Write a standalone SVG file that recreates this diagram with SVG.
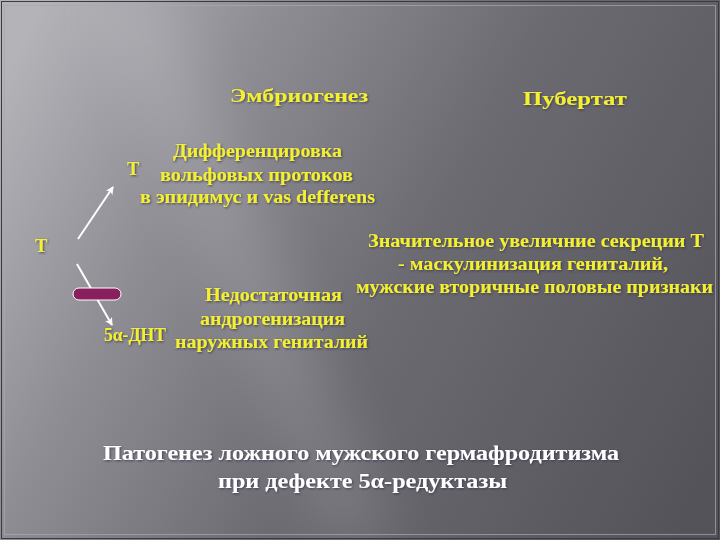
<svg xmlns="http://www.w3.org/2000/svg" width="720" height="540" viewBox="0 0 720 540">
<defs>
<linearGradient id="bg" x1="0" y1="80" x2="720" y2="460" gradientUnits="userSpaceOnUse">
<stop offset="0" stop-color="#b4b3b8"/>
<stop offset="0.25" stop-color="#8f8e95"/>
<stop offset="0.55" stop-color="#6c6b72"/>
<stop offset="1" stop-color="#54535a"/>
</linearGradient>
<filter id="blur" x="-50%" y="-10%" width="200%" height="120%">
<feGaussianBlur stdDeviation="25"/>
</filter>
<filter id="sh" x="-10%" y="-30%" width="120%" height="160%">
<feDropShadow dx="1" dy="1" stdDeviation="0.8" flood-color="#303050" flood-opacity="0.8"/>
</filter>
<marker id="ah" markerWidth="8" markerHeight="8" refX="7" refY="4" orient="auto" markerUnits="userSpaceOnUse">
<path d="M0,0 L8,4 L0,8 L2,4 Z" fill="#ffffff"/>
</marker>
<style>
.y{fill:#f4f02e;font-family:"Liberation Serif","Times New Roman",serif;font-weight:bold;font-size:18.5px;filter:url(#sh)}
.w{fill:#ffffff;font-family:"Liberation Serif","Times New Roman",serif;font-weight:bold;font-size:21.5px;filter:url(#sh)}
.arr{stroke:#ffffff;stroke-width:2;fill:none;marker-end:url(#ah)}
</style>
</defs>
<rect width="720" height="540" fill="url(#bg)"/>
<polygon points="90,0 170,0 400,540 320,540" fill="#ffffff" opacity="0.1" filter="url(#blur)"/>
<rect x="1.5" y="1.5" width="717" height="537" fill="none" stroke="#3a3a40" stroke-width="1"/>
<rect x="4.5" y="5.5" width="711" height="529" fill="none" stroke="#a8a8ae" stroke-width="1" opacity="0.7"/>

<g id="connectors">
<line class="arr" x1="78" y1="239" x2="113" y2="187"/>
<line class="arr" x1="77" y1="264" x2="112" y2="325"/>
</g>

<g id="enzyme-block">
<rect x="73" y="288" width="48" height="12" rx="6" fill="#8a1f5e" stroke="#ffffff" stroke-width="1"/>
</g>

<g id="embryogenesis">
<text class="y" x="230" y="102" textLength="138" lengthAdjust="spacingAndGlyphs">Эмбриогенез</text>
</g>
<g id="puberty">
<text class="y" x="523" y="105" font-size="21" textLength="104" lengthAdjust="spacingAndGlyphs">Пубертат</text>
</g>
<g id="differentiation">
<text class="y" x="173" y="157" textLength="169" lengthAdjust="spacingAndGlyphs">Дифференцировка</text>
<text class="y" x="127" y="175">Т</text>
<text class="y" x="160" y="181" textLength="193" lengthAdjust="spacingAndGlyphs">вольфовых протоков</text>
<text class="y" x="140" y="203" textLength="235" lengthAdjust="spacingAndGlyphs">в эпидимус и vas defferens</text>
</g>
<g id="T-source">
<text class="y" x="35" y="252">Т</text>
</g>
<g id="puberty-effect">
<text class="y" x="368" y="247" textLength="336" lengthAdjust="spacingAndGlyphs">Значительное увеличние секреции Т</text>
<text class="y" x="398" y="270" textLength="270" lengthAdjust="spacingAndGlyphs">- маскулинизация гениталий,</text>
<text class="y" x="356" y="293" textLength="357" lengthAdjust="spacingAndGlyphs">мужские вторичные половые признаки</text>
</g>
<g id="insufficient">
<text class="y" x="205" y="301" textLength="137" lengthAdjust="spacingAndGlyphs">Недостаточная</text>
<text class="y" x="200" y="325" textLength="145" lengthAdjust="spacingAndGlyphs">андрогенизация</text>
<text class="y" x="175" y="348" textLength="193" lengthAdjust="spacingAndGlyphs">наружных гениталий</text>
</g>
<g id="DHT">
<text class="y" x="104" y="341" textLength="62" lengthAdjust="spacingAndGlyphs">5α-ДНТ</text>
</g>
<g id="title">
<text class="w" x="103" y="460" textLength="516" lengthAdjust="spacingAndGlyphs">Патогенез ложного мужского гермафродитизма</text>
<text class="w" x="218" y="488" textLength="289" lengthAdjust="spacingAndGlyphs">при дефекте 5α-редуктазы</text>
</g>
</svg>
